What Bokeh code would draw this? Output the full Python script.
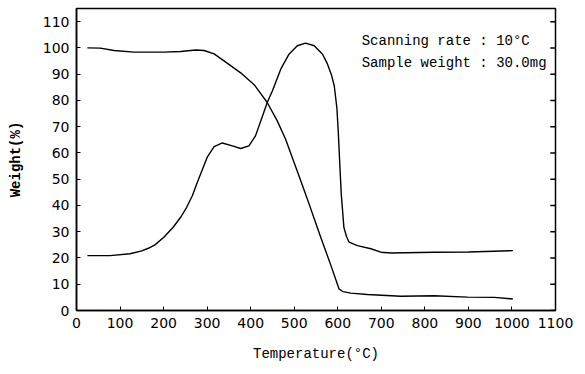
from bokeh.plotting import figure
from bokeh.models import Range1d, FixedTicker, ColumnDataSource
from bokeh.core.properties import value
from bokeh.embed import file_html
from bokeh.resources import INLINE

# TG curve (weight %)
tg_temp = [25, 55, 86, 132, 201, 239, 274, 293, 316, 346, 377, 408, 438, 461, 480,
           515, 530, 560, 585, 598, 603, 612, 630, 668, 745, 821, 898, 960, 1002]
tg_weight = [100.0, 99.9, 99.0, 98.4, 98.4, 98.6, 99.2, 99.0, 97.7, 94.2, 90.5, 86.0,
             79.2, 72.2, 65.3, 49.4, 42.5, 28.3, 16.8, 10.6, 8.2, 7.2, 6.6, 6.1, 5.4,
             5.6, 5.1, 5.0, 4.4]

# second (derivative-like) curve
dtg_temp = [25, 77, 123, 150, 165, 180, 200, 222, 240, 253, 266, 276, 285, 300, 316,
            335, 358, 377, 396, 411, 425, 438, 450, 469, 488, 507, 526, 546, 565, 576,
            585, 592, 598, 601, 604, 608, 614, 620, 626, 645, 676, 699, 722, 821, 900,
            1002]
dtg_value = [20.9, 20.9, 21.6, 22.7, 23.7, 25.0, 27.8, 31.7, 35.7, 39.3, 43.7, 48.2,
             52.0, 58.3, 62.4, 63.8, 62.7, 61.7, 62.7, 66.5, 73.0, 79.2, 83.7, 91.9,
             97.6, 100.8, 101.8, 100.8, 97.6, 94.0, 90.0, 85.5, 77.0, 68.5, 58.0, 44.4,
             31.7, 28.2, 26.0, 24.7, 23.5, 22.2, 21.9, 22.2, 22.3, 22.8]

x_ticks = [0, 100, 200, 300, 400, 500, 600, 700, 800, 900, 1000, 1100]
y_ticks = [0, 10, 20, 30, 40, 50, 60, 70, 80, 90, 100, 110]

ann_x = [655, 655]
ann_y = [102.5, 94.2]
ann_text = ["Scanning rate : 10\u00b0C", "Sample weight : 30.0mg"]

p = figure(width=585, height=374, output_backend="svg", toolbar_location=None,
           x_range=Range1d(0, 1100), y_range=Range1d(0, 115),
           min_border_left=76, min_border_right=30, min_border_top=8,
           min_border_bottom=64)
p.background_fill_color = "white"
p.border_fill_color = "white"
p.outline_line_color = "black"
p.outline_line_width = 1.5
p.xgrid.visible = False
p.ygrid.visible = False

p.line(tg_temp, tg_weight, line_color="black", line_width=1.4)
p.line(dtg_temp, dtg_value, line_color="black", line_width=1.4)

# inward tick marks on the right frame edge
tick_src = ColumnDataSource(dict(y=y_ticks))
p.segment(x0=x_ticks[-1], x1=x_ticks[-1] - 12, y0="y", y1="y", source=tick_src,
          line_color="black", line_width=1.5)

src = ColumnDataSource(dict(x=ann_x, y=ann_y, t=ann_text))
p.text(x="x", y="y", text="t", source=src, text_font=value("Liberation Mono"),
       text_font_size="14px", text_baseline="middle", text_align="left",
       text_color="black")

for ax in (p.xaxis[0], p.yaxis[0]):
    ax.major_tick_in = 4
    ax.major_tick_out = 0
    ax.minor_tick_in = 0
    ax.minor_tick_out = 0
    ax.axis_line_color = "black"
    ax.axis_line_width = 1.5
    ax.major_label_text_font = "DejaVu Sans"
    ax.major_label_text_font_size = "14px"
    ax.major_label_text_color = "black"
    ax.axis_label_text_font = "Liberation Mono"
    ax.axis_label_text_font_size = "14px"
    ax.axis_label_text_color = "black"

p.xaxis[0].ticker = FixedTicker(ticks=x_ticks)
p.yaxis[0].ticker = FixedTicker(ticks=y_ticks)
p.xaxis[0].axis_label = "Temperature(\u00b0C)"
p.xaxis[0].axis_label_text_font_style = "normal"
p.yaxis[0].axis_label = "Weight(%)"
p.yaxis[0].axis_label_text_font_style = "bold"
p.xaxis[0].major_label_standoff = 7
p.xaxis[0].axis_label_standoff = 15
p.yaxis[0].major_label_standoff = 7
p.yaxis[0].axis_label_standoff = 16

open("out.html", "w").write(file_html(p, INLINE))
